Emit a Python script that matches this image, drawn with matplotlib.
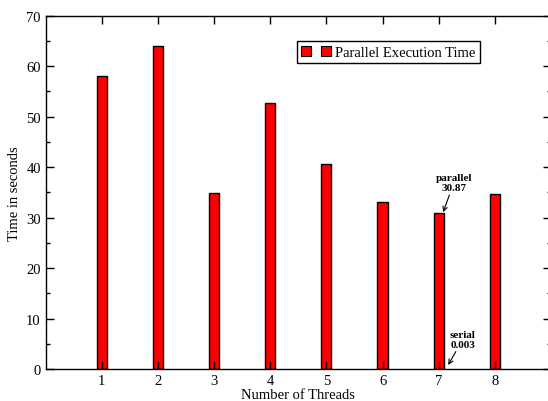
import matplotlib
matplotlib.use('Agg')
import matplotlib.pyplot as plt
from matplotlib.lines import Line2D

threads = [1, 2, 3, 4, 5, 6, 7, 8]
times = [58.0, 64.0, 34.8, 52.7, 40.7, 33.0, 30.87, 34.6]
serial_time = 0.003
serial_thread = 7

plt.rcParams['font.family'] = 'Liberation Serif'

fig = plt.figure(figsize=(5.48, 4.02), dpi=100)
ax1 = fig.add_axes([0.0834, 0.0796, 0.922, 0.879])

ax1.bar(threads, times, width=0.18, color='#ff0000', edgecolor='black', linewidth=1)

ax1.set_xlim([0, 9])
ax1.set_ylim([0, 70])
ax1.set_xticks(threads)
ax1.set_yticks(range(0, 71, 10))
ax1.set_yticks(range(5, 70, 10), minor=True)
ax1.tick_params(which='both', direction='in', top=True, right=True, labelsize=10.5, width=1)
ax1.tick_params(which='major', length=6)
ax1.tick_params(which='minor', length=3)
for sp in ax1.spines.values():
    sp.set_linewidth(1)

ax1.set_xlabel('Number of Threads', fontsize=10.5, labelpad=1)
ax1.set_ylabel('Time in seconds', fontsize=10.5, labelpad=4)

# annotations
ax1.annotate('parallel\n30.87', xy=(7.08, times[6] + 0.2), xytext=(7.27, 35.0),
             fontsize=8, fontweight='bold', ha='center', va='bottom', linespacing=1.15,
             arrowprops=dict(arrowstyle='->', color='black', lw=0.8, shrinkA=0, shrinkB=0))
ax1.annotate('serial\n0.003', xy=(serial_thread + 0.17, serial_time + 0.8), xytext=(7.43, 4.0),
             fontsize=8, fontweight='bold', ha='center', va='bottom', linespacing=1.15,
             arrowprops=dict(arrowstyle='->', color='black', lw=0.8, shrinkA=0, shrinkB=0))

handle = Line2D([], [], marker='s', linestyle='none', markersize=7, markerfacecolor='#ff0000',
                markeredgecolor='black', markeredgewidth=0.8)
leg = ax1.legend(handles=[handle], labels=['Parallel Execution Time'], numpoints=2,
                 loc='upper left', bbox_to_anchor=(0.498, 0.927), fancybox=False,
                 edgecolor='black', framealpha=1, fontsize=10.5, handlelength=2.0,
                 handletextpad=0.3, borderpad=0.3, borderaxespad=0)
leg.get_frame().set_linewidth(1)

fig.savefig('out.png', dpi=100)
